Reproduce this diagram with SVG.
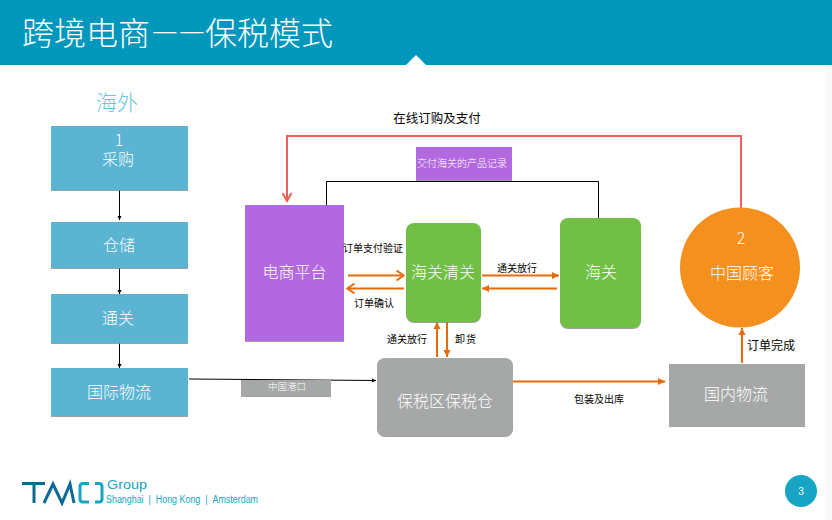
<svg xmlns="http://www.w3.org/2000/svg" width="832" height="520" viewBox="0 0 832 520">
<style>
text{font-family:"Noto Sans CJK SC","Liberation Sans",sans-serif;text-anchor:middle}
.w{fill:#fff;font-size:16px;font-weight:300}
.k{fill:#000;font-size:10px}
.or{fill:none;stroke:#e46c0a;stroke-width:2}
.bk{fill:none;stroke:#000;stroke-width:1}
.blue{fill:#5ab4d2}
.gr{fill:#a5a8a7}
.green{fill:#71bf44}
.pur{fill:#b269df}
.sh{filter:url(#ds)}
</style>
<defs>
<filter id="ds" x="-5%" y="-5%" width="110%" height="110%"><feDropShadow dx="0" dy="1" stdDeviation="0.6" flood-color="#888" flood-opacity="0.8"/></filter>
<marker id="ao" markerUnits="userSpaceOnUse" markerWidth="8" markerHeight="10" refX="7" refY="5" orient="auto"><path d="M0 1.500L7 5L0 8.500Z" fill="#e46c0a"/></marker>
<marker id="aoo" markerUnits="userSpaceOnUse" markerWidth="10" markerHeight="12" refX="8.500" refY="6" orient="auto"><path d="M1 1L8 6L1 11" fill="none" stroke="#e46c0a" stroke-width="2"/></marker>
<marker id="ak" markerUnits="userSpaceOnUse" markerWidth="5" markerHeight="5" refX="4" refY="2.500" orient="auto"><path d="M0 .5L4 2.500L0 4.500Z" fill="#000"/></marker>
<marker id="ar" markerUnits="userSpaceOnUse" markerWidth="12" markerHeight="10" refX="9" refY="5" orient="auto"><path d="M1 .5L9 5L1 9.500" fill="none" stroke="#f0605c" stroke-width="2"/></marker>
</defs>
<rect width="832" height="520" fill="#fff"/>
<rect x="825" y="0" width="7" height="520" fill="#fafafa"/>
<g id="header">
<rect width="832" height="65" fill="#0097bd"/>
<path d="M406 65L416 55L426 65Z" fill="#fff"/>
<text x="22" y="45" style="font-size:32px;font-weight:300;text-anchor:start" fill="#fff">跨境电商<tspan x="152 179" y="41" style="font-size:29px">——</tspan><tspan x="205" y="45">保税模式</tspan></text>
</g>
<text x="117" y="110" style="font-size:21px;font-weight:300" fill="#6cc3dd">海外</text>

<g id="connectors">
<path class="bk" d="M119.500 190V220" marker-end="url(#ak)"/>
<path class="bk" d="M119.500 268V294" marker-end="url(#ak)"/>
<path class="bk" d="M119.500 343V368" marker-end="url(#ak)"/>
<path class="bk" d="M189 379L376 380.500" marker-end="url(#ak)"/>
<path class="bk" d="M326.500 205V181.500H598.500V218"/>
<path d="M741 208V136H287V201" fill="none" stroke="#f0605c" stroke-width="2" marker-end="url(#ar)"/>
<path class="or" d="M348 275.500H404" marker-end="url(#aoo)"/>
<path class="or" d="M404 288.500H347" marker-end="url(#aoo)"/>
<path class="or" d="M482 275.500H559" marker-end="url(#ao)"/>
<path class="or" d="M557 288.500H482" marker-end="url(#ao)"/>
<path class="or" d="M437 357V322" marker-end="url(#ao)"/>
<path class="or" d="M447 322V357" marker-end="url(#ao)"/>
<path class="or" d="M513 381.500H665" marker-end="url(#ao)"/>
<path class="or" d="M742 363V328" marker-end="url(#ao)"/>
</g>

<g id="n-caigou"><rect class="blue sh" x="51" y="126" width="137" height="64"/>
<text class="w" x="119" y="146">1<tspan x="118" y="165">采购</tspan></text></g>
<g id="n-cangchu"><rect class="blue sh" x="51" y="222" width="137" height="46"/><text class="w" x="119" y="251">仓储</text></g>
<g id="n-tongguan"><rect class="blue sh" x="51" y="294" width="137" height="49"/><text class="w" x="118" y="324">通关</text></g>
<g id="n-wuliu"><rect class="blue sh" x="51" y="368" width="137" height="48"/><text class="w" x="119" y="398">国际物流</text></g>
<g id="n-gangkou"><rect class="gr sh" x="241" y="380" width="90" height="16"/><text x="287" y="390" style="font-size:9.500px;font-weight:300" fill="#fff">中国港口</text></g>
<g id="n-jilu"><rect class="pur sh" x="416" y="147" width="96" height="33"/><text x="462" y="167" style="font-size:10px;font-weight:300" fill="#fff">交付海关的产品记录</text></g>
<g id="n-dianshang"><rect class="pur sh" x="245" y="205" width="99" height="136"/><text class="w" x="294.500" y="278">电商平台</text></g>
<g id="n-qingguan"><rect class="green sh" x="406" y="223" width="75" height="99" rx="8"/><text class="w" x="443" y="278">海关清关</text></g>
<g id="n-haiguan"><rect class="green sh" x="560" y="218" width="81" height="110" rx="8"/><text class="w" x="601" y="278">海关</text></g>
<g id="n-guke"><circle cx="740" cy="267.500" r="60" fill="#f4901e"/><text class="w" x="741" y="244">2</text><text class="w" x="742" y="279">中国顾客</text></g>
<g id="n-baoshui"><rect class="gr sh" x="377" y="358" width="136" height="78" rx="8"/><text class="w" x="445" y="407">保税区保税仓</text></g>
<g id="n-guonei"><rect class="gr sh" x="669" y="364" width="136" height="62"/><text class="w" x="736" y="400">国内物流</text></g>

<g id="labels">
<text x="437" y="123" style="font-size:12.500px" fill="#000">在线订购及支付</text>
<text class="k" x="373" y="252">订单支付验证</text>
<text class="k" x="374" y="307">订单确认</text>
<text class="k" x="517" y="272">通关放行</text>
<text class="k" x="407" y="343">通关放行</text>
<text class="k" x="466" y="343" style="letter-spacing:1px">卸货</text>
<text class="k" x="599" y="403">包装及出库</text>
<text x="771" y="350" style="font-size:12px" fill="#000">订单完成</text>
</g>

<g id="logo">
<path d="M22 483.500H45M34 483.500V503" fill="none" stroke="#0d6a94" stroke-width="3"/>
<path d="M44 503L53 484L62 503L70 484L74 503" fill="none" stroke="#0d6a94" stroke-width="3"/>
<path d="M89 483.500H83Q80 483.500 80 486.500V499Q80 502 83 502H89M95 483.500H99Q102 483.500 102 486.500V499Q102 502 99 502H95" fill="none" stroke="#18a5c4" stroke-width="3"/>
<text x="127" y="489" style="font-size:12px;font-family:'Liberation Sans',sans-serif" fill="#18a5c4" textLength="40" lengthAdjust="spacingAndGlyphs">Group</text>
<text x="182" y="503" style="font-size:10px;font-family:'Liberation Sans',sans-serif" fill="#18a5c4" textLength="152" lengthAdjust="spacingAndGlyphs">Shanghai&#160;&#160;|&#160;&#160;Hong Kong&#160;&#160;|&#160;&#160;Amsterdam</text>
</g>
<g id="page"><circle cx="801" cy="491" r="16" fill="#18a5c4"/><text x="801" y="495" style="font-size:10px;font-family:'Liberation Sans',sans-serif" fill="#fff">3</text></g>
</svg>
